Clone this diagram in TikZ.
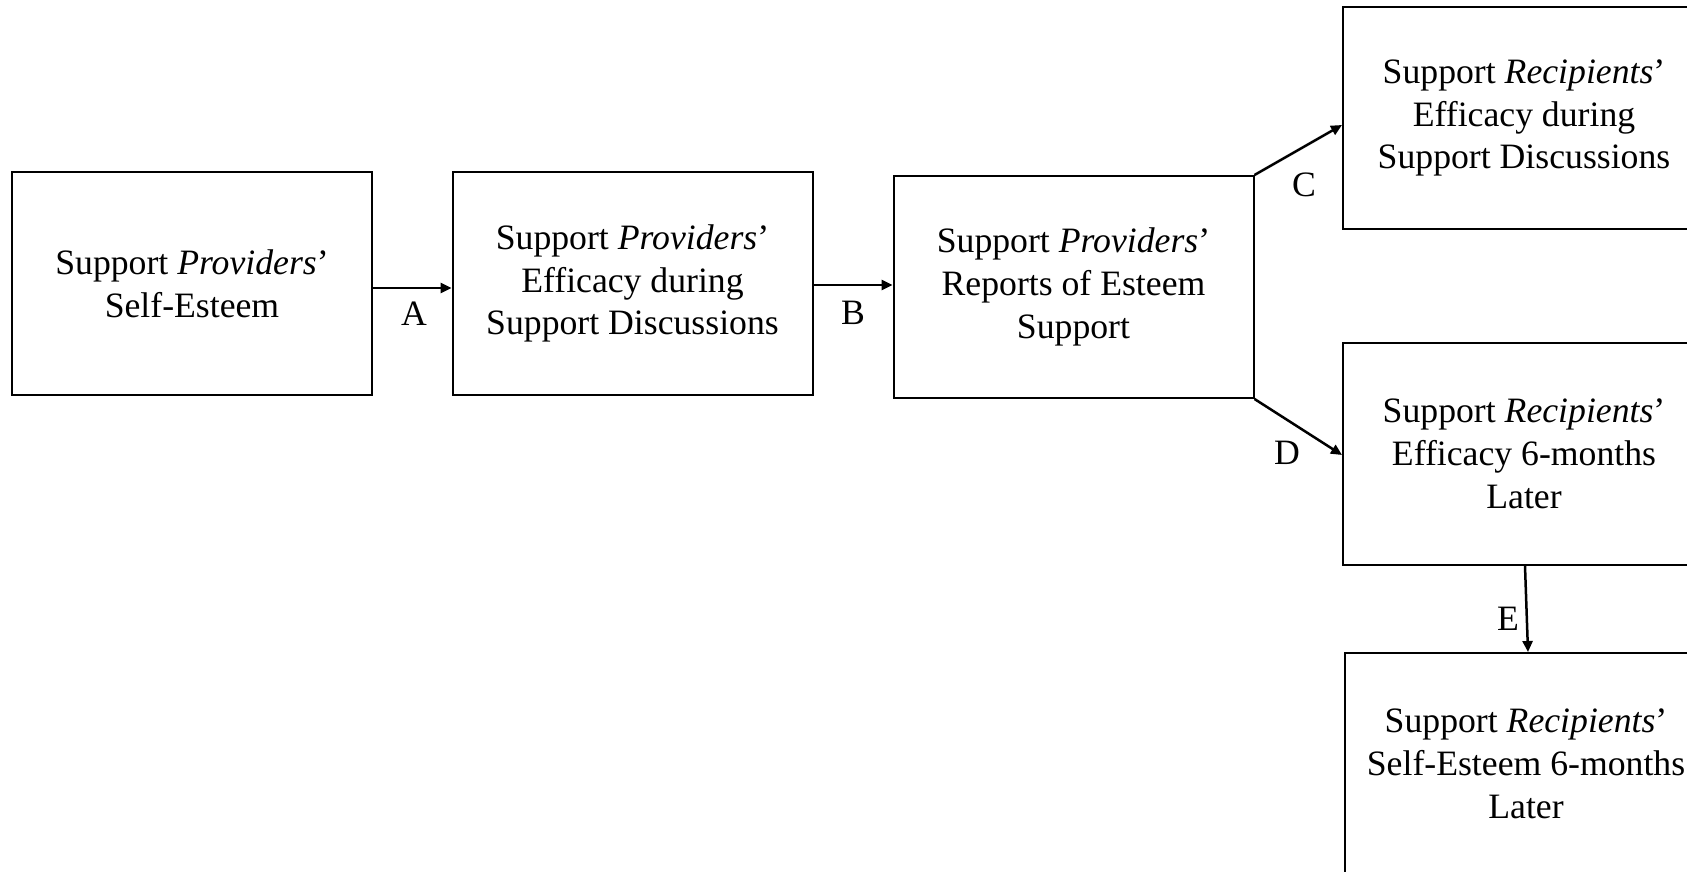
\documentclass[tikz,border=0pt]{standalone}
\usepackage{fontspec}
\setmainfont{Liberation Serif}
\usetikzlibrary{arrows.meta}
\begin{document}
\begin{tikzpicture}[x=1pt,y=-1pt,
  txt/.style={font=\fontsize{35.7pt}{42.9pt}\selectfont},
  box/.style={txt, draw, line width=2pt, minimum width=360pt, minimum height=222pt,
              align=center, inner sep=0pt},
  arr/.style={line width=2.5pt, -{Triangle[length=11pt,width=10pt]}},
  lbl/.style={txt, inner sep=0pt}]
\useasboundingbox (0,0) rectangle (1687,872);
\clip (0,0) rectangle (1687,872);

% boxes
\node[box] (b1) at (192,283.5)  {Support \textit{Providers}'\\Self-Esteem};
\node[box] (b2) at (632.5,283.5){Support \textit{Providers}'\\Efficacy during\\Support Discussions};
\node[box] (b3) at (1073.5,287) {Support \textit{Providers}'\\Reports of Esteem\\Support};
\node[box, minimum width=362pt] (b4) at (1524,118) {Support \textit{Recipients}'\\Efficacy during\\Support Discussions};
\node[box, minimum width=362pt] (b5) at (1524,454) {Support \textit{Recipients}'\\Efficacy 6-months\\Later};
\node[box, minimum width=362pt] (b6) at (1526,764) {Support \textit{Recipients}'\\Self-Esteem 6-months\\Later};

% paths
\draw[arr] ([yshift=-4.5pt]b1.east) -- ([yshift=-4.5pt]b2.west);
\draw[arr] ([yshift=-1.5pt]b2.east) -- ([yshift=2pt]b3.west);
\draw[arr] (b3.north east) -- ([yshift=-7pt]b4.west);
\draw[arr] (b3.south east) -- ([yshift=-1pt]b5.west);
\draw[arr] ([xshift=1pt]b5.south) -- ([xshift=2pt]b6.north);

% path labels
\node[lbl] (la) at (414,314) {A};
\node[lbl] (lb) at (853,313) {B};
\node[lbl] (lc) at (1304,185) {C};
\node[lbl] (ld) at (1287,453) {D};
\node[lbl] (le) at (1508,619) {E};
\end{tikzpicture}
\end{document}
